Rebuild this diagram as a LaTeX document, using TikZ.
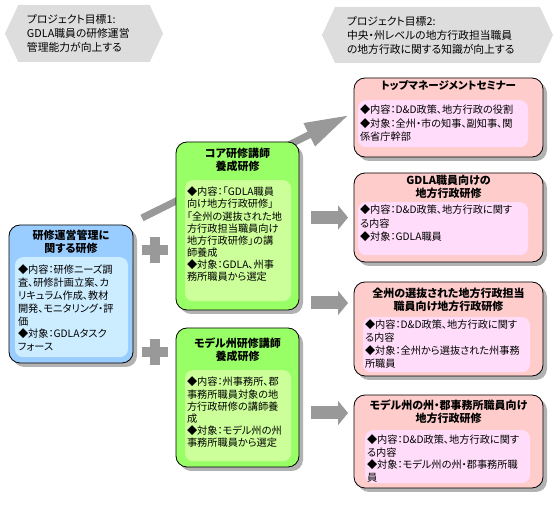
\documentclass[tikz,border=0pt]{standalone}
\usepackage{fontspec}
\setmainfont{Noto Sans CJK JP}[RawFeature=+palt]
\usetikzlibrary{arrows.meta,positioning,shapes.symbols,shadows}

\definecolor{goalgray}{HTML}{DDDDDD}
\definecolor{bluebg}{HTML}{99CCFF}
\definecolor{blueinner}{HTML}{CCECFF}
\definecolor{greenbg}{HTML}{99FF66}
\definecolor{greeninner}{HTML}{CCFF99}
\definecolor{pinkbg}{HTML}{FFCCCC}
\definecolor{pinkinner}{HTML}{FFDDFA}
\definecolor{arrowgray}{HTML}{999999}

\begin{document}
\begin{tikzpicture}[x=1pt, y=-1pt,
    goal/.style={signal, signal to=east and west, signal pointer angle=130, fill=goalgray, inner sep=0pt, outer sep=0pt, align=left, font=\fontsize{10.8}{14}\selectfont},
    box/.style={draw, line width=0.8pt, rounded corners=11pt, outer sep=0pt, drop shadow={shadow xshift=4pt, shadow yshift=-4pt, fill=gray!60, opacity=1}},
    ttl/.style={align=center, inner sep=0pt, font=\bfseries\fontsize{11}{13}\selectfont},
    body/.style={anchor=north, align=left, rounded corners=8pt, inner xsep=2pt, inner ysep=2pt, font=\fontsize{10.2}{#1}\selectfont},
    blk/.style={arrowgray, line width=13pt, -{Triangle[length=10pt,width=24pt]}, shorten <=12pt, shorten >=6pt},
    bigarr/.style={arrowgray, line width=7pt, -{Triangle[length=44pt,width=24pt]}, shorten >=6pt},
    plus/.style={arrowgray, line width=10pt}
]
\useasboundingbox (0,0) rectangle (558,510);

% project goals
\node[goal, minimum width=158pt, minimum height=57pt, text width=114pt] (goalA) at (84,33.5) {プロジェクト目標1:\\GDLA職員の研修運営\\管理能力が向上する};
\node[goal, minimum width=231pt, minimum height=56pt, text width=181pt] (goalB) at (437.5,35) {プロジェクト目標2:\\中央・州レベルの地方行政担当職員\\の地方行政に関する知識が向上する};

% long arrow behind the core box
\coordinate (split) at (142,218);
\coordinate (top in) at (354,112.5);

% left: training management
\node[box, fill=bluebg, minimum width=124pt, minimum height=138pt] (mgmt) at (71,294) {};
\node[ttl, below=5pt of mgmt.north] (mgmtT) {研修運営管理に\\関する研修};
\node[body=12.8, fill=blueinner, inner xsep=3pt, text width=107pt, text height=14.8pt, text depth=81.2pt] (mgmtB) at (71.5,257) {◆内容：研修ニーズ調\\査、研修計画立案、カ\\リキュラム作成、教材\\開発、モニタリング・評\\価\\◆対象：GDLAタスク\\フォース};

% middle: trainer training
\node[box, fill=pinkbg, minimum width=189pt, minimum height=79pt] (top) at (448.5,117.5) {};
\draw[bigarr] (split) -- (top.west |- top in);

\node[box, fill=greenbg, minimum width=123pt, minimum height=168pt] (core) at (237.5,226) {};
\node[ttl, below=6pt of core.north] (coreT) {コア研修講師\\養成研修};
\node[body=12.1, fill=greeninner, text width=102pt, text height=13.7pt, text depth=103.3pt] (coreB) at (238,180) {◆内容：「GDLA職員\\向け地方行政研修」\\「全州の選抜された地\\方行政担当職員向け\\地方行政研修」の講\\師養成\\◆対象：GDLA、州事\\務所職員から選定};

\node[box, fill=greenbg, minimum width=123pt, minimum height=139pt] (model) at (237.5,397.5) {};
\node[ttl, below=10pt of model.north] (modelT) {モデル州研修講師\\養成研修};
\node[body=12.2, fill=greeninner, text width=102pt, text height=13.7pt, text depth=73.3pt] (modelB) at (238,370) {◆内容：州事務所、郡\\事務所職員対象の地\\方行政研修の講師養\\成\\◆対象：モデル州の州\\事務所職員から選定};

% right: courses
\node[ttl, font=\bfseries\fontsize{10.5}{13}\selectfont, below=2pt of top.north] (topT) {トップマネージメントセミナー};
\node[body=13.3, fill=pinkinner, text width=166pt, text height=11.7pt, text depth=31.3pt] (topB) at (443,100) {◆内容：D\&D政策、地方行政の役割\\◆対象：全州・市の知事、副知事、関\\係省庁幹部};

\node[box, fill=pinkbg, minimum width=189pt, minimum height=89pt] (gdla) at (448.5,217.5) {};
\node[ttl, below=2pt of gdla.north] (gdlaT) {GDLA職員向けの\\地方行政研修};
\node[body=13.3, fill=pinkinner, text width=166pt, text height=9.7pt, text depth=39.3pt] (gdlaB) at (443,202) {◆内容：D\&D政策、地方行政に関す\\る内容\\◆対象：GDLA職員};

\node[box, fill=pinkbg, minimum width=189pt, minimum height=94pt] (zen) at (448.5,329) {};
\node[ttl, below=6pt of zen.north] (zenT) {全州の選抜された地方行政担当\\職員向け地方行政研修};
\node[body=13, fill=pinkinner, text width=163pt, text height=9.7pt, text depth=41.3pt] (zenB) at (446.5,317) {◆内容：D\&D政策、地方行政に関す\\る内容\\◆対象：全州から選抜された州事務\\所職員};

\node[box, fill=pinkbg, minimum width=189pt, minimum height=93pt] (mdl) at (448.5,441.5) {};
\node[ttl, below=5pt of mdl.north] (mdlT) {モデル州の州・郡事務所職員向け\\地方行政研修};
\node[body=12.5, fill=pinkinner, text width=161pt, text height=11.7pt, text depth=37.3pt] (mdlB) at (447.5,430) {◆内容：D\&D政策、地方行政に関す\\る内容\\◆対象：モデル州の州・郡事務所職\\員};

% block arrows
\coordinate (lvl2) at (299,303);
\coordinate (lvl3) at (299,413);
\draw[blk] (core.east |- gdla.west) -- (gdla.west);
\draw[blk] (lvl2) -- (zen.west |- lvl2);
\draw[blk] (lvl3) -- (mdl.west |- lvl3);

% plus signs
\coordinate (plusA) at (155,250);
\coordinate (plusB) at (155,352);
\draw[plus] ([xshift=-13pt]plusA) -- ([xshift=13pt]plusA);
\draw[plus] ([yshift=-13pt]plusA) -- ([yshift=13pt]plusA);
\draw[plus] ([xshift=-13pt]plusB) -- ([xshift=13pt]plusB);
\draw[plus] ([yshift=-13pt]plusB) -- ([yshift=13pt]plusB);
\end{tikzpicture}
\end{document}
